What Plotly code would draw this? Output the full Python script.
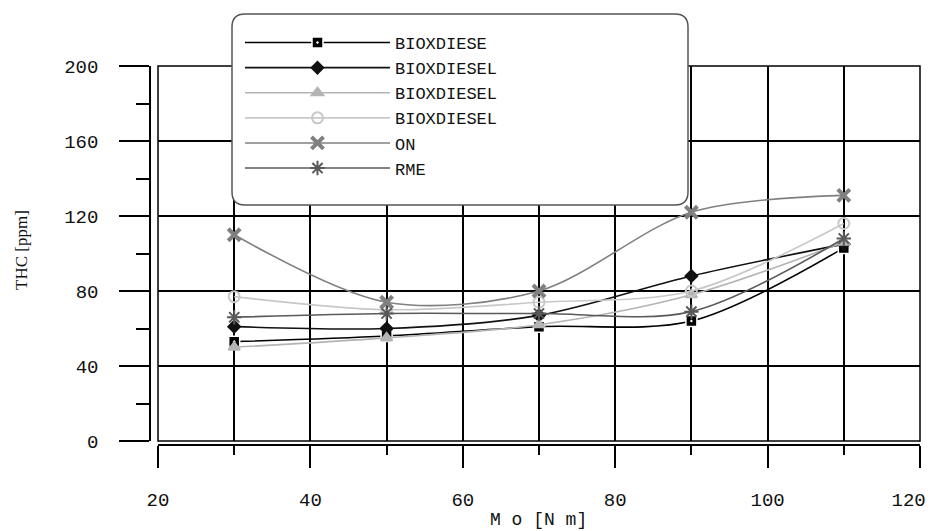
import plotly.graph_objects as go

x_mo = [30, 50, 70, 90, 110]
names = ["BIOXDIESE", "BIOXDIESEL", "BIOXDIESEL", "BIOXDIESEL", "ON", "RME"]
bioxdiese = [53, 56, 61, 64, 103]
bioxdiesel_1 = [61, 60, 67, 88, 105]
bioxdiesel_2 = [50, 55, 62, 78, 106]
bioxdiesel_3 = [77, 70, 74, 80, 116]
on_fuel = [110, 74, 80, 122, 131]
rme = [66, 68, 68, 69, 108]
x_ticks = [20, 40, 60, 80, 100, 120]
x_tick_labels = ["20", "40", "60", "80", "100", "120"]

series = [bioxdiese, bioxdiesel_1, bioxdiesel_2, bioxdiesel_3, on_fuel, rme]
colors = ["#000000", "#111111", "#b4b4b4", "#c8c8c8", "#808080", "#5a5a5a"]
symbols = ["square-dot", "diamond", "triangle-up", "circle-open", "x-thin-open", "asterisk-open"]
msizes = [11, 9, 10, 11, 12, 12]

fig = go.Figure()
for name, ys, c, s, ms in zip(names, series, colors, symbols, msizes):
    marker = dict(symbol=s, size=ms, color=c, line=dict(color=c, width=2))
    if s == "square-dot":
        marker = dict(symbol="square-dot", size=ms, color=c, line=dict(color="white", width=1.5))
    if s == "x-thin-open":
        marker = dict(symbol="x-thin-open", size=ms, color=c, line=dict(color=c, width=4))
    fig.add_trace(go.Scatter(
        x=x_mo, y=ys, name=name, mode="lines+markers",
        line=dict(color=c, width=1.6, shape="spline", smoothing=0.9),
        marker=marker,
    ))

# page body has an 8px margin, so figure pixel = screen pixel - 8
OFF = 8
W, H = 935 - OFF, 531 - OFF
ml, mr, mt, mb = 150 - OFF, 935 - 920, 66 - OFF, 531 - 445
pw = W - ml - mr
ph = H - mt - mb
xd0 = 8 / pw
yd0 = 4 / ph


def px(sx):
    return (sx - OFF - ml) / pw


def py(sy):
    return 1 - (sy - OFF - mt) / ph


# last label padded so it stays inside the page edge like the reference
shown_x_labels = x_tick_labels[:-1] + [x_tick_labels[-1] + "\u00a0\u00a0"]

fig.update_layout(
    width=W, height=H,
    margin=dict(l=ml, r=mr, t=mt, b=mb, autoexpand=False),
    paper_bgcolor="white", plot_bgcolor="white",
    font=dict(family="Liberation Mono", color="#111111"),
    showlegend=True,
    legend=dict(
        xref="container", yref="container",
        x=(240 - OFF) / W, y=1 - (25 - OFF) / H, xanchor="left", yanchor="top",
        bgcolor="rgba(0,0,0,0)", borderwidth=0,
        font=dict(family="Liberation Mono", size=17, color="#111111"),
        itemwidth=145, tracegroupgap=0,
    ),
    xaxis=dict(
        domain=[xd0, 1], range=[20, 120],
        tickmode="array", tickvals=x_ticks, ticktext=shown_x_labels,
        automargin=False, ticklabeloverflow="allow",
        showline=True, linecolor="black", linewidth=1.5,
        anchor="free", position=0,
        ticks="outside", ticklen=22, tickcolor="black", tickwidth=1.5,
        ticklabelstandoff=15,
        showgrid=True, gridcolor="black", gridwidth=1.5,
        zeroline=False,
        minor=dict(dtick=10, tick0=20, ticks="outside", ticklen=9, tickcolor="black", tickwidth=1.5,
                   showgrid=True, gridcolor="black", gridwidth=1.5),
        tickfont=dict(family="Liberation Mono", size=19, color="#111111"),
    ),
    yaxis=dict(
        domain=[yd0, 1], range=[0, 200], dtick=40, tick0=0,
        automargin=False, ticklabeloverflow="allow",
        showline=True, linecolor="black", linewidth=1.5,
        anchor="free", position=0,
        ticks="outside", ticklen=30, tickcolor="black", tickwidth=1.5,
        ticklabelstandoff=17,
        showgrid=True, gridcolor="black", gridwidth=1.5,
        zeroline=False,
        minor=dict(dtick=20, ticks="outside", ticklen=13, tickcolor="black", tickwidth=1.5,
                   showgrid=False),
        tickfont=dict(family="Liberation Mono", size=19, color="#111111"),
    ),
)

# axis titles
fig.add_annotation(text="M o [N m]", xref="paper", yref="paper", x=px(538), y=py(520),
                   showarrow=False, xanchor="center", yanchor="middle",
                   font=dict(family="Liberation Mono", size=18, color="#111111"))
fig.add_annotation(text="THC [ppm]", xref="paper", yref="paper", x=px(22), y=py(250),
                   showarrow=False, xanchor="center", yanchor="middle", textangle=-90,
                   font=dict(family="Liberation Serif", size=17, color="#111111"))

# plot frame
fig.add_shape(type="rect", xref="x domain", yref="y domain", x0=0, x1=1, y0=0, y1=1,
              line=dict(color="black", width=1.5), layer="above")

# rounded legend box
bx0, bx1 = px(232), px(688)
by1, by0 = py(14), py(205)
rx = 13 / pw
ry = 13 / ph
path = (f"M {bx0+rx},{by1} L {bx1-rx},{by1} Q {bx1},{by1} {bx1},{by1-ry} "
        f"L {bx1},{by0+ry} Q {bx1},{by0} {bx1-rx},{by0} "
        f"L {bx0+rx},{by0} Q {bx0},{by0} {bx0},{by0+ry} "
        f"L {bx0},{by1-ry} Q {bx0},{by1} {bx0+rx},{by1} Z")
fig.add_shape(type="path", xref="paper", yref="paper", path=path,
              fillcolor="white", line=dict(color="#555555", width=1.5), layer="above")

fig.write_html("out.html")
